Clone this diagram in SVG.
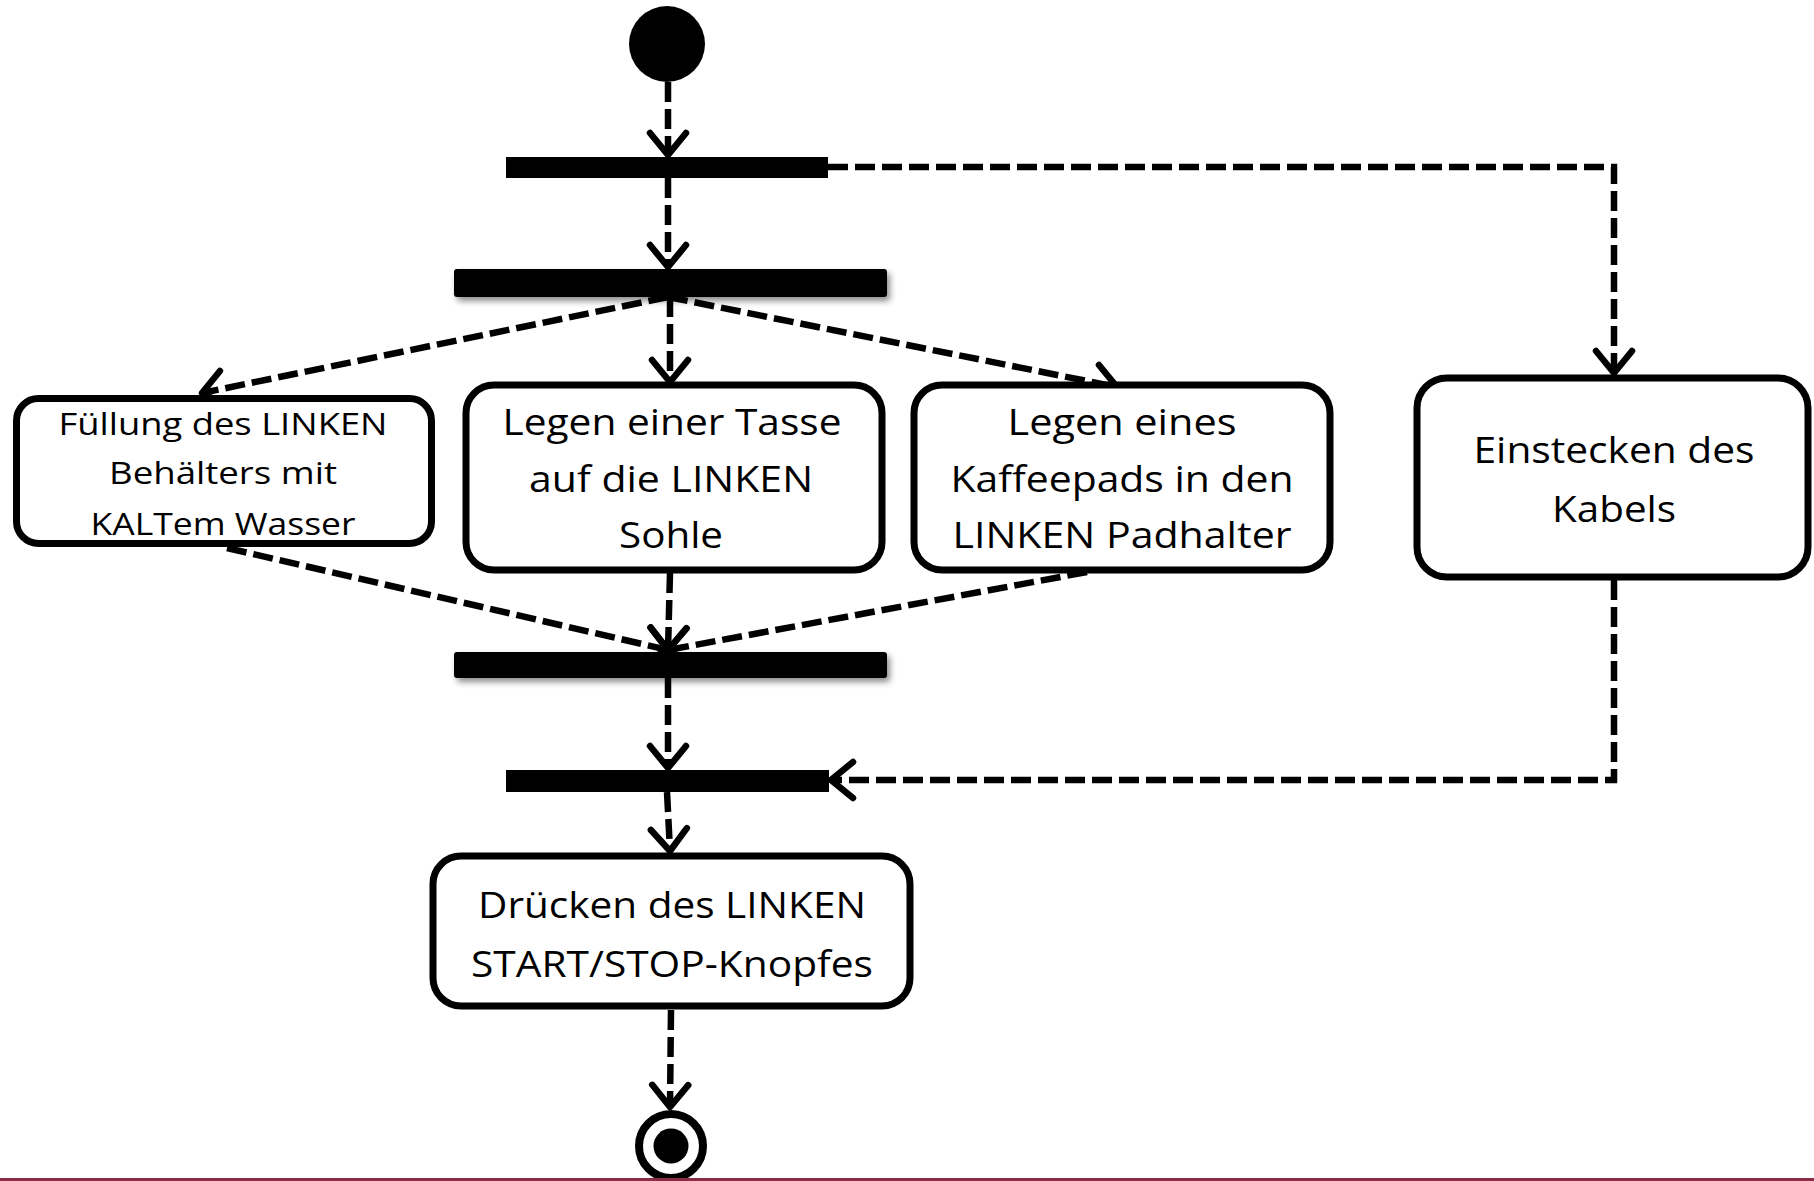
<svg xmlns="http://www.w3.org/2000/svg" width="1814" height="1181" viewBox="0 0 1814 1181">
<style>
.box{fill:#fff;stroke:#000;stroke-width:7}
.bar{fill:#000}
.c{fill:none;stroke:#000;stroke-width:6.5;stroke-dasharray:20 7}
.t{font-family:"Open Sans","Liberation Sans",sans-serif;fill:#000;text-anchor:middle}
.s{font-size:31px}
.b{font-size:36px}
</style>
<defs>
<marker id="ah" markerUnits="userSpaceOnUse" viewBox="-30 -30 60 60" markerWidth="60" markerHeight="60" refX="0" refY="0" orient="auto" overflow="visible">
<path d="M-22,-18 L0,0 L-22,18" fill="none" stroke="#000" stroke-width="6.5" stroke-dasharray="none" stroke-linecap="round" stroke-linejoin="round"/>
</marker>
<filter id="sh" x="-10%" y="-60%" width="120%" height="250%">
<feDropShadow dx="3" dy="4" stdDeviation="3" flood-color="#000" flood-opacity="0.45"/>
</filter>
</defs>
<rect width="1814" height="1181" fill="#fff"/>

<g id="connectors">
<line class="c" x1="668" y1="82" x2="668" y2="155" marker-end="url(#ah)"/>
<line class="c" x1="668" y1="178" x2="668" y2="267" marker-end="url(#ah)"/>
<polyline class="c" points="828,167 1614,167 1614,373" marker-end="url(#ah)"/>
<line class="c" x1="668" y1="297" x2="202" y2="393" marker-end="url(#ah)"/>
<line class="c" x1="670" y1="297" x2="670" y2="382" marker-end="url(#ah)"/>
<line class="c" x1="668" y1="297" x2="1117" y2="387" marker-end="url(#ah)"/>
<line class="c" x1="227" y1="548" x2="668" y2="650" marker-end="url(#ah)"/>
<line class="c" x1="670" y1="573" x2="668" y2="650" marker-end="url(#ah)"/>
<line class="c" x1="1087" y1="572" x2="668" y2="650" marker-end="url(#ah)"/>
<line class="c" x1="668" y1="678" x2="668" y2="768" marker-end="url(#ah)"/>
<polyline class="c" points="1614,580 1614,780 831,780" marker-end="url(#ah)"/>
<line class="c" x1="667" y1="792" x2="670" y2="851" marker-end="url(#ah)"/>
<line class="c" x1="671" y1="1010" x2="670" y2="1107" marker-end="url(#ah)"/>
</g>

<g id="start"><circle cx="667" cy="44" r="38" fill="#000"/></g>

<g id="fork1"><rect class="bar" x="506" y="157" width="322" height="21"/></g>
<g id="fork2"><rect class="bar" x="454" y="269" width="433" height="28" rx="3" filter="url(#sh)"/></g>
<g id="join1"><rect class="bar" x="454" y="652" width="433" height="26" rx="3" filter="url(#sh)"/></g>
<g id="join2"><rect class="bar" x="506" y="770" width="323" height="22"/></g>

<g id="fill-water">
<rect class="box" x="16.5" y="398.5" width="415" height="145" rx="22"/>
<text class="t s" x="223" y="435" textLength="329" lengthAdjust="spacingAndGlyphs">Füllung des LINKEN</text>
<text class="t s" x="223" y="484" textLength="228" lengthAdjust="spacingAndGlyphs">Behälters mit</text>
<text class="t s" x="223" y="535" textLength="265" lengthAdjust="spacingAndGlyphs">KALTem Wasser</text>
</g>

<g id="place-cup">
<rect class="box" x="466" y="385" width="416" height="185" rx="28"/>
<text class="t b" x="672" y="435" textLength="339" lengthAdjust="spacingAndGlyphs">Legen einer Tasse</text>
<text class="t b" x="671" y="492" textLength="284" lengthAdjust="spacingAndGlyphs">auf die LINKEN</text>
<text class="t b" x="671" y="548" textLength="104" lengthAdjust="spacingAndGlyphs">Sohle</text>
</g>

<g id="place-pad">
<rect class="box" x="914" y="385" width="416" height="185" rx="28"/>
<text class="t b" x="1122" y="435" textLength="229" lengthAdjust="spacingAndGlyphs">Legen eines</text>
<text class="t b" x="1122" y="492" textLength="343" lengthAdjust="spacingAndGlyphs">Kaffeepads in den</text>
<text class="t b" x="1122" y="548" textLength="339" lengthAdjust="spacingAndGlyphs">LINKEN Padhalter</text>
</g>

<g id="plug-cable">
<rect class="box" x="1417" y="378" width="391" height="199" rx="30"/>
<text class="t b" x="1614" y="463" textLength="281" lengthAdjust="spacingAndGlyphs">Einstecken des</text>
<text class="t b" x="1614" y="522" textLength="124" lengthAdjust="spacingAndGlyphs">Kabels</text>
</g>

<g id="press-start">
<rect class="box" x="433" y="856" width="477" height="150" rx="28"/>
<text class="t b" x="672" y="918" textLength="388" lengthAdjust="spacingAndGlyphs">Drücken des LINKEN</text>
<text class="t b" x="672" y="977" textLength="402" lengthAdjust="spacingAndGlyphs">START/STOP-Knopfes</text>
</g>

<g id="end">
<circle cx="671" cy="1146" r="32" fill="#fff" stroke="#000" stroke-width="8"/>
<circle cx="671" cy="1146" r="17.5" fill="#000"/>
</g>

<rect x="0" y="1178" width="1814" height="3" fill="#8c2b47"/>
</svg>
